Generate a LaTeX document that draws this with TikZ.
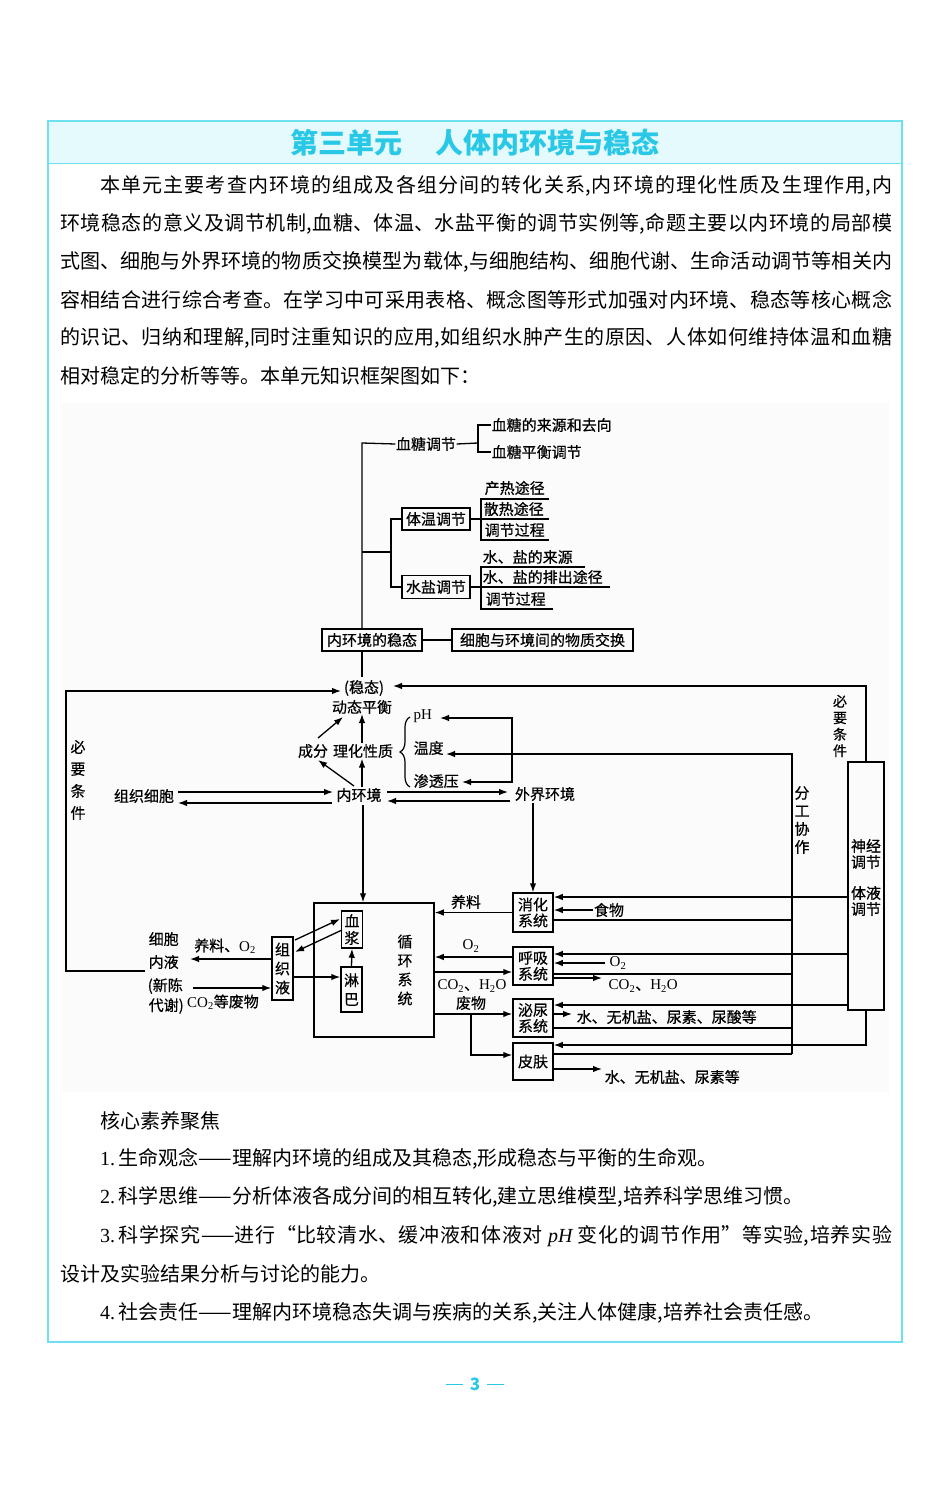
\documentclass[tikz,border=0pt]{standalone}
\usepackage{fontspec}
\setmainfont{Noto Sans CJK SC}
\newfontface\dfont[FakeBold=0.5]{Noto Sans CJK SC}
\newfontfamily\lat{Liberation Serif}
\usetikzlibrary{arrows.meta,decorations.pathreplacing}
\XeTeXlinebreaklocale "zh"
\XeTeXlinebreakskip=0pt plus 5pt minus 0.3pt
\definecolor{cyanb}{RGB}{110,225,240}
\definecolor{cyant}{RGB}{40,200,230}
\definecolor{cyanf}{RGB}{228,250,253}
\newcommand\sbs[1]{\textsubscript{#1}}
\tikzset{
  ln/.style={line width=1.3pt},
  arr/.style={line width=1.3pt,-{Latex[length=9pt,width=6.5pt]}},
  dt/.style={font=\fontsize{15pt}{16pt}\dfont, inner sep=0.5pt},
  vt/.style={font=\fontsize{15pt}{#1}\dfont, inner sep=0pt, align=center},
  bx/.style={draw, line width=1.5pt, font=\fontsize{15pt}{16pt}\dfont, inner sep=0pt, align=center},
  body/.style={anchor=west, inner sep=0pt, font=\fontsize{20pt}{24pt}\selectfont},
  jline/.style={body, align=justify, text width=#1},
}
\begin{document}
\begin{tikzpicture}[x=1pt,y=-1pt]
\useasboundingbox (0,0) rectangle (950,1486);
\fill[white] (0,0) rectangle (950,1486);
% frame and title
\fill[cyanf] (48,121) rectangle (902,163);
\draw[cyanb, line width=1.5pt] (48,121) rectangle (902,1342);
\draw[cyanb, line width=1pt] (48,163) -- (902,163);
\node[font=\fontsize{28pt}{30pt}\selectfont\bfseries, text=cyant, inner sep=0pt] (title) at (475,143) {第三单元\hspace{1.2em}人体内环境与稳态};
% intro paragraph
\node[jline=792pt] (l1) at (100,186) {\noindent\parfillskip=0pt 本单元主要考查内环境的组成及各组分间的转化关系,内环境的理化性质及生理作用,内\par};
\node[jline=832pt] (l2) at (60,224) {\noindent\parfillskip=0pt 环境稳态的意义及调节机制,血糖、体温、水盐平衡的调节实例等,命题主要以内环境的局部模\par};
\node[jline=832pt] (l3) at (60,262) {\noindent\parfillskip=0pt 式图、细胞与外界环境的物质交换模型为载体,与细胞结构、细胞代谢、生命活动调节等相关内\par};
\node[jline=832pt] (l4) at (60,300) {\noindent\parfillskip=0pt 容相结合进行综合考查。在学习中可采用表格、概念图等形式加强对内环境、稳态等核心概念\par};
\node[jline=832pt] (l5) at (60,338) {\noindent\parfillskip=0pt 的识记、归纳和理解,同时注重知识的应用,如组织水肿产生的原因、人体如何维持体温和血糖\par};
\node[body] (l6) at (60,376) {相对稳定的分析等等。本单元知识框架图如下：};
% diagram background
\fill[black!1.5] (62,403) rectangle (889,1092);
% ---------- top tree ----------
\node[dt] (xt) at (426,444) {血糖调节};
\node[dt, anchor=west] (xt1) at (491,425) {血糖的来源和去向};
\node[dt, anchor=west] (xt2) at (491,452) {血糖平衡调节};
\node[bx, minimum width=68pt, minimum height=22pt] (tw) at (436,519) {体温调节};
\node[bx, minimum width=68pt, minimum height=23pt] (sy) at (436,587) {水盐调节};
\node[dt, anchor=west] (tw1) at (484,488) {产热途径};
\node[dt, anchor=west] (tw2) at (483,509) {散热途径};
\node[dt, anchor=west] (tw3) at (484,530) {调节过程};
\node[dt, anchor=west] (sy1) at (482,557) {水、盐的来源};
\node[dt, anchor=west] (sy2) at (482,577) {水、盐的排出途径};
\node[dt, anchor=west] (sy3) at (485,599) {调节过程};
\node[bx, minimum width=100pt, minimum height=22pt] (wt) at (372,640) {内环境的稳态};
\node[bx, minimum width=181pt, minimum height=22pt] (jh) at (542.5,640) {细胞与环境间的物质交换};
\coordinate (tr) at (362,443);
\coordinate (br) at (391,552);
\coordinate (bk) at (478,443);
\draw[ln] (xt.west) -- (tr) -- (tr |- wt.north);
\draw[ln] (tr |- br) -- (br);
\draw[ln] (tw.west) -| (br) |- (sy.west);
\draw[ln] (xt.east) -- (bk);
\draw[ln] (xt1.west) -| (bk) |- (xt2.west);
\draw[ln] (tw.east) -- (481,519);
\draw[ln] (549,499) -- (481,499) -- (481,540) -- (549,540);
\draw[ln] (481,519) -- (549,519);
\draw[ln] (sy.east) -- (481,587);
\draw[ln] (585,567) -- (481,567) -- (481,609) -- (553,609);
\draw[ln] (481,587) -- (610,587);
\draw[ln] (wt.east) -- (jh.west);
\draw[ln] (tr |- wt.south) -- (362,677);
% ---------- middle ----------
\node[dt] (wd) at (364,688) {(稳态)};
\node[dt] (dtph) at (362,707) {动态平衡};
\node[dt] (cf) at (313,751) {成分};
\node[dt] (lh) at (363,751) {理化性质};
\node[dt, anchor=west] (ph) at (413,716) {\lat pH};
\node[dt, anchor=west] (wdu) at (413,748) {温度};
\node[dt, anchor=west] (stp) at (413,781) {渗透压};
\node[dt] (nhj) at (359,795) {内环境};
\node[dt] (zzxb) at (144,796) {组织细胞};
\node[dt] (wjhj) at (545,794) {外界环境};
\node[vt=22pt] (byl) at (78,780) {必\\要\\条\\件};
\node[vt=16.5pt, font=\fontsize{14pt}{16.5pt}\dfont] (byr) at (840,726) {必\\要\\条\\件};
\node[vt=18pt] (fg) at (802,820) {分\\工\\协\\作};
\draw[line width=1.2pt, decorate, decoration={brace, amplitude=10pt}] (410,787) -- (410,717);
\draw[arr] (318,738) -- (343,717);
\draw[arr] (lh.north -| 362,0) -- (362,714);
\draw[arr] (354,786) -- (318,760);
\draw[arr] (362,787) -- (lh.south -| 362,0);
\draw[arr] (178,792) -- (333,792);
\draw[arr] (332,803) -- (178,803);
\draw[arr] (387,792) -- (508,792);
\draw[arr] (510,801) -- (387,801);
% ---------- bottom ----------
\node[draw, line width=1.5pt, minimum width=120pt, minimum height=134pt, inner sep=0pt] (circ) at (374,970) {};
\node[vt=19pt] (xhxt) at (405,970) {循\\环\\系\\统};
\node[bx, minimum width=21pt, minimum height=37pt, font=\fontsize{15pt}{17pt}\dfont] (xj) at (352,929.5) {血\\浆};
\node[bx, minimum width=21pt, minimum height=45pt, font=\fontsize{15pt}{19pt}\dfont] (lb) at (351.5,989.5) {淋\\巴};
\node[bx, minimum width=21pt, minimum height=63pt, font=\fontsize{15pt}{19pt}\dfont] (zzy) at (282.5,968.5) {组\\织\\液};
\draw[arr] (363,805) -- (circ.north -| 363,0);
\draw[arr] (295,940) -- (340,919);
\draw[arr] (342,930) -- (295,952);
\draw[arr] (zzy.east |- 0,977) -- (lb.west |- 0,977);
\draw[arr] (lb.north) -- (xj.south);
% left cells
\node[dt, anchor=west] (xb1) at (148,939) {细胞};
\node[dt, anchor=west] (xb2) at (148,962) {内液};
\node[dt, anchor=west] (xb3) at (147,986) {(新陈};
\node[dt, anchor=west] (xb4) at (148,1006) {代谢)};
\node[dt] (ylo) at (225,946) {养料、{\lat O\sbs{2}}};
\node[dt] (co2w) at (223,1002) {{\lat CO\sbs{2}}等废物};
\draw[arr] (zzy.west |- 0,959) -- (190,959);
\draw[arr] (193,988) -- (zzy.west |- 0,988);
\draw[arr] (145,971) -- (66,971) -- (66,691) -- (341,691);
% systems
\node[bx, minimum width=40pt, minimum height=39pt] (xh) at (533,912.5) {消化\\系统};
\node[bx, minimum width=40pt, minimum height=38pt] (hx) at (533,966) {呼吸\\系统};
\node[bx, minimum width=40pt, minimum height=38pt] (mn) at (533,1018) {泌尿\\系统};
\node[bx, minimum width=40pt, minimum height=37pt] (pf) at (533,1061.5) {皮肤};
\node[draw, line width=1.5pt, minimum width=36pt, minimum height=248pt, inner sep=0pt] (sj) at (866,886) {};
\node[dt, align=center] (sjt) at (866,854) {神经\\调节};
\node[dt, align=center] (tyt) at (866,901) {体液\\调节};
\draw[arr] (533,803) -- (xh.north);
\draw[arr] (sj.north) |- (393,686);
\draw[arr] (sj.west |- 0,897) -- (xh.east |- 0,897);
\draw[arr] (sj.west |- 0,954) -- (hx.east |- 0,954);
\draw[arr] (sj.west |- 0,1005) -- (mn.east |- 0,1005);
\draw[arr] (sj.south) |- (pf.east |- 0,1045);
\draw[arr] (792,1054) -- (792,754) -- (446,754);
\draw[arr] (512,754) -- (512,718) -- (440,718);
\draw[arr] (512,754) -- (512,782) -- (462,782);
\draw[ln] (xh.east |- 0,920) -- (792,920);
\draw[ln] (hx.east |- 0,974) -- (792,974);
\draw[ln] (mn.east |- 0,1028) -- (792,1028);
\draw[ln] (pf.east |- 0,1054) -- (792,1054);
\node[dt] (sw) at (609,910) {食物};
\draw[arr] (sw.west) -- (xh.east |- sw.west);
\node[dt] (yl) at (466,902) {养料};
\draw[arr] (xh.west) -- (circ.east |- xh.west);
\node[dt] (o2a) at (471,946) {\lat O\sbs{2}};
\draw[arr] (hx.west |- 0,957) -- (circ.east |- 0,957);
\draw[arr] (circ.east |- 0,972) -- (hx.west |- 0,972);
\node[dt] (co2a) at (472,986) {{\lat CO\sbs{2}}、{\lat H\sbs{2}O}};
\node[dt, anchor=west] (o2b) at (609,963) {\lat O\sbs{2}};
\draw[arr] ([xshift=-4pt]o2b.west |- 0,963) -- (hx.east |- 0,963);
\draw[arr] (hx.east |- 0,978) -- (602,978);
\node[dt, anchor=west] (co2b) at (608,986) {{\lat CO\sbs{2}}、{\lat H\sbs{2}O}};
\node[dt] (fw) at (471,1003) {废物};
\draw[arr] (circ.east |- 0,1014) -- (mn.west |- 0,1014);
\draw[arr] (471,1014) |- (pf.west |- 0,1055);
\draw[arr] (mn.east |- 0,1014) -- (572,1014);
\node[dt, anchor=west] (mno) at (576,1017) {水、无机盐、尿素、尿酸等};
\draw[arr] (pf.east |- 0,1069) -- (602,1069);
\node[dt, anchor=west] (pfo) at (604,1077) {水、无机盐、尿素等};
% ---------- core literacy ----------
\node[body] (hx0) at (100,1121) {核心素养聚焦};
\node[body] (hx1) at (100,1159) {{\lat 1.\,}生命观念——理解内环境的组成及其稳态,形成稳态与平衡的生命观。};
\node[body] (hx2) at (100,1197) {{\lat 2.\,}科学思维——分析体液各成分间的相互转化,建立思维模型,培养科学思维习惯。};
\node[jline=792pt] (hx3) at (100,1236) {\noindent\parfillskip=0pt {\lat 3.\,}科学探究——进行“比较清水、缓冲液和体液对{\lat\itshape\ pH\ }变化的调节作用”等实验,培养实验\par};
\node[body] (hx3b) at (60,1274) {设计及实验结果分析与讨论的能力。};
\node[body] (hx4) at (100,1313) {{\lat 4.\,}社会责任——理解内环境稳态失调与疾病的关系,关注人体健康,培养社会责任感。};
% page number
\node[text=cyant, font=\fontsize{17pt}{18pt}\selectfont\bfseries, inner sep=0pt] (pg) at (475,1384) {\rule[0.3em]{17pt}{1.3pt}\hspace{7pt}3\hspace{7pt}\rule[0.3em]{17pt}{1.3pt}};
\end{tikzpicture}
\end{document}
